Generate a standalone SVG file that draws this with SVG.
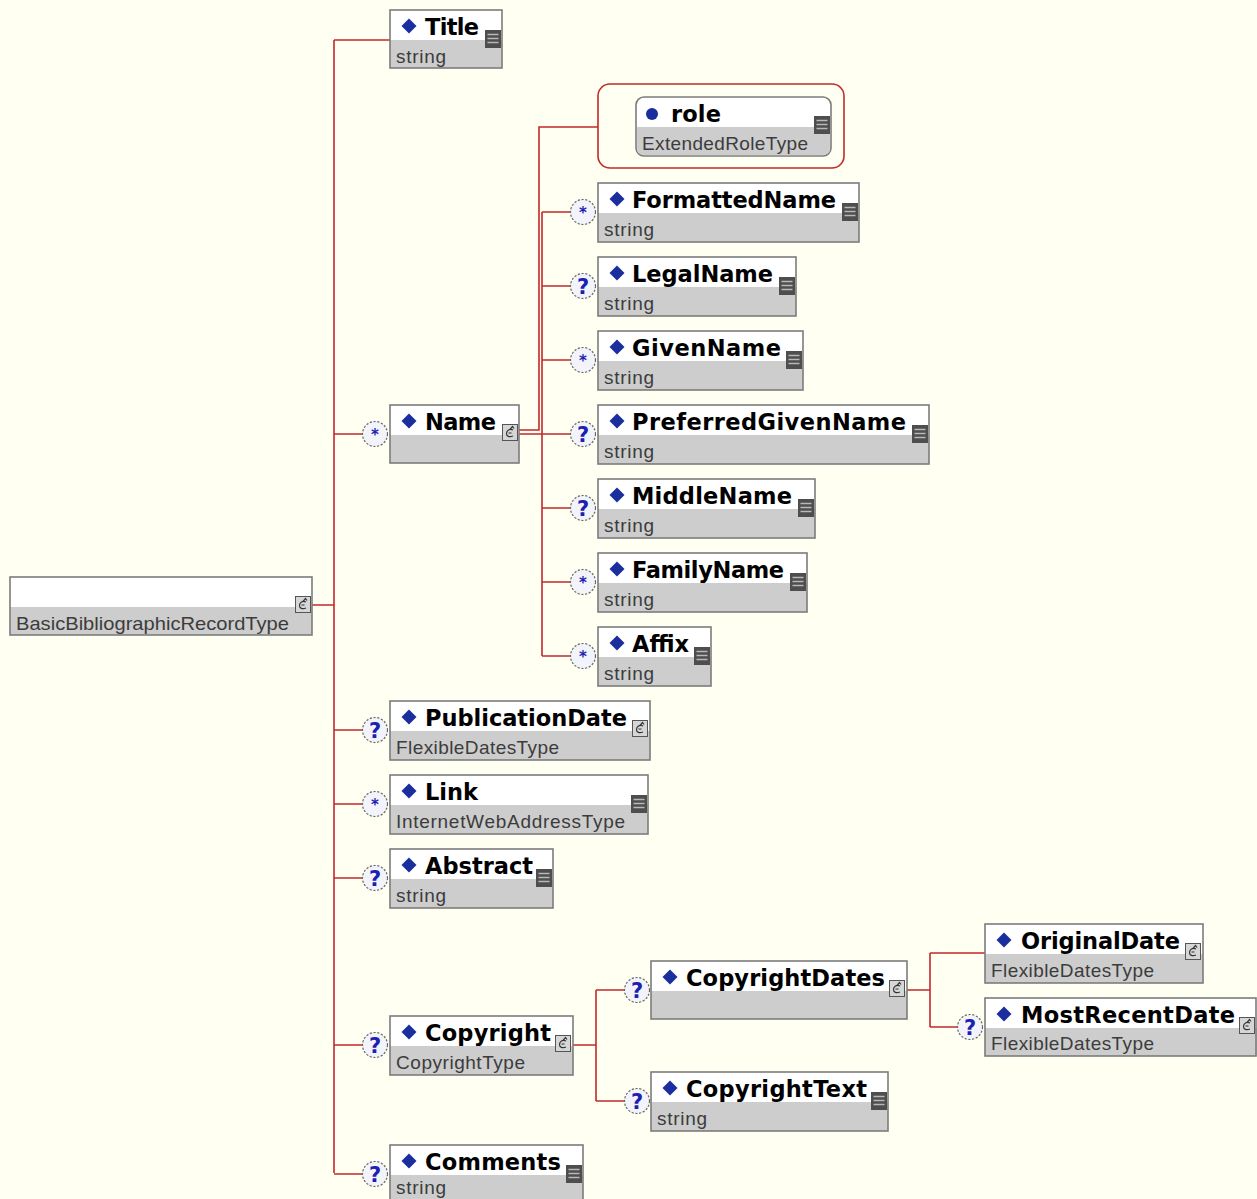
<svg xmlns="http://www.w3.org/2000/svg" xmlns:xlink="http://www.w3.org/1999/xlink" width="1257" height="1199" viewBox="0 0 1257 1199">
  <style>
    .hd { fill: #ffffff; }
    .bt { fill: #cdcdcd; }
    .frame { fill: none; stroke: #7c7c7c; stroke-width: 1.6; }
    .nm { font-family: "DejaVu Sans", Verdana, sans-serif; font-weight: bold; font-size: 22.5px; fill: #000; }
    .ty { font-family: "Liberation Sans", Arial, sans-serif; font-size: 19px; fill: #3c3c3c; }
    .wire { stroke: #c3292b; stroke-width: 1.6; fill: none; }
    .occ { font-family: "DejaVu Sans", Verdana, sans-serif; font-weight: bold; fill: #1c22b0; text-anchor: middle; }
  </style>
  <defs>
    <!-- element marker -->
    <path id="dia" d="M0,-7.5 L7.5,0 L0,7.5 L-7.5,0Z" fill="#1a2e9e"/>
    <!-- simple-type documentation icon -->
    <g id="doc">
      <rect x="0" y="0" width="16" height="18" fill="#4e4e4e"/>
      <path d="M2.5,4.5 H13.5 M2.5,8.5 H13.5 M2.5,12.5 H13.5" stroke="#b8b8b8" stroke-width="1.5"/>
    </g>
    <!-- complex-type icon -->
    <g id="cx">
      <rect x="0.5" y="0.5" width="15" height="16" fill="#d6d6d6" stroke="#555" stroke-width="1"/>
      <path d="M11,6 C7.5,4.5 4.5,6.5 4.5,9.5 C4.5,12.5 7.5,13.5 11,12 M6.5,9 H9.5 M8,5.5 L10.5,2.5 L12,4.5" fill="none" stroke="#333" stroke-width="1.2"/>
    </g>
    <!-- occurrence indicators -->
    <g id="opt">
      <circle r="12.5" fill="#f3f4fb" stroke="#6a6a6a" stroke-width="1.2" stroke-dasharray="2.2,1.6"/>
      <text class="occ" y="8" font-size="21">?</text>
    </g>
    <g id="many">
      <circle r="12.5" fill="#f3f4fb" stroke="#6a6a6a" stroke-width="1.2" stroke-dasharray="2.2,1.6"/>
      <text class="occ" y="6" font-size="15">*</text>
    </g>
  </defs>

  <rect width="1257" height="1199" fill="#fffff2"/>

  <!-- connectors -->
  <g id="connectors">
    <!-- root sequence -->
    <path class="wire" d="M312,605 H334 M334,40 V1173"/>
    <path class="wire" d="M334,40 H390 M334,434 H363 M334,730 H363 M334,804 H363 M334,878 H363 M334,1045 H363 M334,1174 H363"/>
    <!-- Name: attributes and sequence -->
    <path class="wire" d="M519,430 H539 V127 H598"/>
    <path class="wire" d="M519,434 H542 M542,212 V656"/>
    <path class="wire" d="M542,212 H571 M542,286 H571 M542,360 H571 M542,434 H571 M542,508 H571 M542,582 H571 M542,656 H571"/>
    <!-- Copyright sequence -->
    <path class="wire" d="M573,1045 H596 M596,990 V1101 M596,990 H625 M596,1101 H625"/>
    <!-- CopyrightDates sequence -->
    <path class="wire" d="M907,990 H930 M930,953 V1027 M930,953 H985 M930,1027 H958"/>
  </g>

  <!-- root type -->
  <g id="node-root">
    <rect class="hd" x="10" y="577" width="302" height="30"/>
    <rect class="bt" x="10" y="607" width="302" height="28"/>
    <rect class="frame" x="10" y="577" width="302" height="58"/>
    <use xlink:href="#cx" x="295" y="596"/>
    <text class="ty" x="16" y="630" textLength="273" lengthAdjust="spacingAndGlyphs">BasicBibliographicRecordType</text>
  </g>

  <g id="node-title">
    <rect class="hd" x="390" y="10" width="112" height="30"/>
    <rect class="bt" x="390" y="40" width="112" height="28"/>
    <rect class="frame" x="390" y="10" width="112" height="58"/>
    <use xlink:href="#dia" x="409" y="26"/>
    <text class="nm" x="425" y="35" textLength="54">Title</text>
    <text class="ty" x="396" y="63" textLength="50">string</text>
    <use xlink:href="#doc" x="485" y="30"/>
  </g>

  <g id="node-name">
    <use xlink:href="#many" x="375" y="434"/>
    <rect class="hd" x="390" y="405" width="129" height="30"/>
    <rect class="bt" x="390" y="435" width="129" height="28"/>
    <rect class="frame" x="390" y="405" width="129" height="58"/>
    <use xlink:href="#dia" x="409" y="421"/>
    <text class="nm" x="425" y="430" textLength="71">Name</text>
    <use xlink:href="#cx" x="502" y="424"/>
  </g>

  <g id="node-role">
    <rect x="598" y="84" width="246" height="84" rx="12" fill="none" stroke="#c3292b" stroke-width="1.6"/>
    <rect x="636" y="97" width="195" height="59" rx="8" fill="#ffffff" stroke="#7c7c7c" stroke-width="1.6"/>
    <path d="M637,127 H830 V148 Q830,155 823,155 H644 Q637,155 637,148 Z" fill="#cdcdcd"/>
    <circle cx="652" cy="114" r="6" fill="#1a2e9e"/>
    <text class="nm" x="671" y="122" textLength="50">role</text>
    <text class="ty" x="642" y="150" textLength="166">ExtendedRoleType</text>
    <use xlink:href="#doc" x="814" y="116"/>
  </g>

  <g id="node-formattedname">
    <use xlink:href="#many" x="583" y="212"/>
    <rect class="hd" x="598" y="183" width="261" height="30"/>
    <rect class="bt" x="598" y="213" width="261" height="29"/>
    <rect class="frame" x="598" y="183" width="261" height="59"/>
    <use xlink:href="#dia" x="617" y="199"/>
    <text class="nm" x="632" y="208" textLength="204">FormattedName</text>
    <text class="ty" x="604" y="236" textLength="50">string</text>
    <use xlink:href="#doc" x="842" y="203"/>
  </g>

  <g id="node-legalname">
    <use xlink:href="#opt" x="583" y="286"/>
    <rect class="hd" x="598" y="257" width="198" height="30"/>
    <rect class="bt" x="598" y="287" width="198" height="29"/>
    <rect class="frame" x="598" y="257" width="198" height="59"/>
    <use xlink:href="#dia" x="617" y="273"/>
    <text class="nm" x="632" y="282" textLength="141">LegalName</text>
    <text class="ty" x="604" y="310" textLength="50">string</text>
    <use xlink:href="#doc" x="779" y="277"/>
  </g>

  <g id="node-givenname">
    <use xlink:href="#many" x="583" y="360"/>
    <rect class="hd" x="598" y="331" width="205" height="30"/>
    <rect class="bt" x="598" y="361" width="205" height="29"/>
    <rect class="frame" x="598" y="331" width="205" height="59"/>
    <use xlink:href="#dia" x="617" y="347"/>
    <text class="nm" x="632" y="356" textLength="149">GivenName</text>
    <text class="ty" x="604" y="384" textLength="50">string</text>
    <use xlink:href="#doc" x="786" y="351"/>
  </g>

  <g id="node-preferredgivenname">
    <use xlink:href="#opt" x="583" y="434"/>
    <rect class="hd" x="598" y="405" width="331" height="30"/>
    <rect class="bt" x="598" y="435" width="331" height="29"/>
    <rect class="frame" x="598" y="405" width="331" height="59"/>
    <use xlink:href="#dia" x="617" y="421"/>
    <text class="nm" x="632" y="430" textLength="274">PreferredGivenName</text>
    <text class="ty" x="604" y="458" textLength="50">string</text>
    <use xlink:href="#doc" x="912" y="425"/>
  </g>

  <g id="node-middlename">
    <use xlink:href="#opt" x="583" y="508"/>
    <rect class="hd" x="598" y="479" width="217" height="30"/>
    <rect class="bt" x="598" y="509" width="217" height="29"/>
    <rect class="frame" x="598" y="479" width="217" height="59"/>
    <use xlink:href="#dia" x="617" y="495"/>
    <text class="nm" x="632" y="504" textLength="160">MiddleName</text>
    <text class="ty" x="604" y="532" textLength="50">string</text>
    <use xlink:href="#doc" x="798" y="499"/>
  </g>

  <g id="node-familyname">
    <use xlink:href="#many" x="583" y="582"/>
    <rect class="hd" x="598" y="553" width="209" height="30"/>
    <rect class="bt" x="598" y="583" width="209" height="29"/>
    <rect class="frame" x="598" y="553" width="209" height="59"/>
    <use xlink:href="#dia" x="617" y="569"/>
    <text class="nm" x="632" y="578" textLength="152">FamilyName</text>
    <text class="ty" x="604" y="606" textLength="50">string</text>
    <use xlink:href="#doc" x="790" y="573"/>
  </g>

  <g id="node-affix">
    <use xlink:href="#many" x="583" y="656"/>
    <rect class="hd" x="598" y="627" width="113" height="30"/>
    <rect class="bt" x="598" y="657" width="113" height="29"/>
    <rect class="frame" x="598" y="627" width="113" height="59"/>
    <use xlink:href="#dia" x="617" y="643"/>
    <text class="nm" x="632" y="652" textLength="57">Affix</text>
    <text class="ty" x="604" y="680" textLength="50">string</text>
    <use xlink:href="#doc" x="694" y="647"/>
  </g>

  <g id="node-publicationdate">
    <use xlink:href="#opt" x="375" y="730"/>
    <rect class="hd" x="390" y="701" width="260" height="30"/>
    <rect class="bt" x="390" y="731" width="260" height="29"/>
    <rect class="frame" x="390" y="701" width="260" height="59"/>
    <use xlink:href="#dia" x="409" y="717"/>
    <text class="nm" x="425" y="726" textLength="202">PublicationDate</text>
    <text class="ty" x="396" y="754" textLength="163">FlexibleDatesType</text>
    <use xlink:href="#cx" x="632" y="720"/>
  </g>

  <g id="node-link">
    <use xlink:href="#many" x="375" y="804"/>
    <rect class="hd" x="390" y="775" width="258" height="30"/>
    <rect class="bt" x="390" y="805" width="258" height="29"/>
    <rect class="frame" x="390" y="775" width="258" height="59"/>
    <use xlink:href="#dia" x="409" y="791"/>
    <text class="nm" x="425" y="800" textLength="53">Link</text>
    <text class="ty" x="396" y="828" textLength="229">InternetWebAddressType</text>
    <use xlink:href="#doc" x="631" y="795"/>
  </g>

  <g id="node-abstract">
    <use xlink:href="#opt" x="375" y="878"/>
    <rect class="hd" x="390" y="849" width="163" height="30"/>
    <rect class="bt" x="390" y="879" width="163" height="29"/>
    <rect class="frame" x="390" y="849" width="163" height="59"/>
    <use xlink:href="#dia" x="409" y="865"/>
    <text class="nm" x="425" y="874" textLength="108">Abstract</text>
    <text class="ty" x="396" y="902" textLength="50">string</text>
    <use xlink:href="#doc" x="536" y="869"/>
  </g>

  <g id="node-copyright">
    <use xlink:href="#opt" x="375" y="1045"/>
    <rect class="hd" x="390" y="1016" width="183" height="30"/>
    <rect class="bt" x="390" y="1046" width="183" height="29"/>
    <rect class="frame" x="390" y="1016" width="183" height="59"/>
    <use xlink:href="#dia" x="409" y="1032"/>
    <text class="nm" x="425" y="1041" textLength="126">Copyright</text>
    <text class="ty" x="396" y="1069" textLength="129">CopyrightType</text>
    <use xlink:href="#cx" x="555" y="1035"/>
  </g>

  <g id="node-copyrightdates">
    <use xlink:href="#opt" x="637" y="990"/>
    <rect class="hd" x="651" y="961" width="256" height="30"/>
    <rect class="bt" x="651" y="991" width="256" height="28"/>
    <rect class="frame" x="651" y="961" width="256" height="58"/>
    <use xlink:href="#dia" x="670" y="977"/>
    <text class="nm" x="686" y="986" textLength="199">CopyrightDates</text>
    <use xlink:href="#cx" x="889" y="980"/>
  </g>

  <g id="node-copyrighttext">
    <use xlink:href="#opt" x="637" y="1101"/>
    <rect class="hd" x="651" y="1072" width="237" height="30"/>
    <rect class="bt" x="651" y="1102" width="237" height="29"/>
    <rect class="frame" x="651" y="1072" width="237" height="59"/>
    <use xlink:href="#dia" x="670" y="1088"/>
    <text class="nm" x="686" y="1097" textLength="181">CopyrightText</text>
    <text class="ty" x="657" y="1125" textLength="50">string</text>
    <use xlink:href="#doc" x="871" y="1092"/>
  </g>

  <g id="node-originaldate">
    <rect class="hd" x="985" y="924" width="218" height="30"/>
    <rect class="bt" x="985" y="954" width="218" height="29"/>
    <rect class="frame" x="985" y="924" width="218" height="59"/>
    <use xlink:href="#dia" x="1004" y="940"/>
    <text class="nm" x="1021" y="949" textLength="159">OriginalDate</text>
    <text class="ty" x="991" y="977" textLength="163">FlexibleDatesType</text>
    <use xlink:href="#cx" x="1185" y="943"/>
  </g>

  <g id="node-mostrecentdate">
    <use xlink:href="#opt" x="970" y="1027"/>
    <rect class="hd" x="985" y="998" width="272" height="30"/>
    <rect class="bt" x="985" y="1028" width="272" height="28"/>
    <rect class="frame" x="985" y="998" width="271" height="58"/>
    <use xlink:href="#dia" x="1004" y="1014"/>
    <text class="nm" x="1021" y="1023" textLength="214">MostRecentDate</text>
    <text class="ty" x="991" y="1050" textLength="163">FlexibleDatesType</text>
    <use xlink:href="#cx" x="1239" y="1017"/>
  </g>

  <g id="node-comments">
    <use xlink:href="#opt" x="375" y="1174"/>
    <rect class="hd" x="390" y="1145" width="193" height="30"/>
    <rect class="bt" x="390" y="1175" width="193" height="29"/>
    <rect class="frame" x="390" y="1145" width="193" height="59"/>
    <use xlink:href="#dia" x="409" y="1161"/>
    <text class="nm" x="425" y="1170" textLength="136">Comments</text>
    <text class="ty" x="396" y="1194" textLength="50">string</text>
    <use xlink:href="#doc" x="566" y="1165"/>
  </g>
</svg>
